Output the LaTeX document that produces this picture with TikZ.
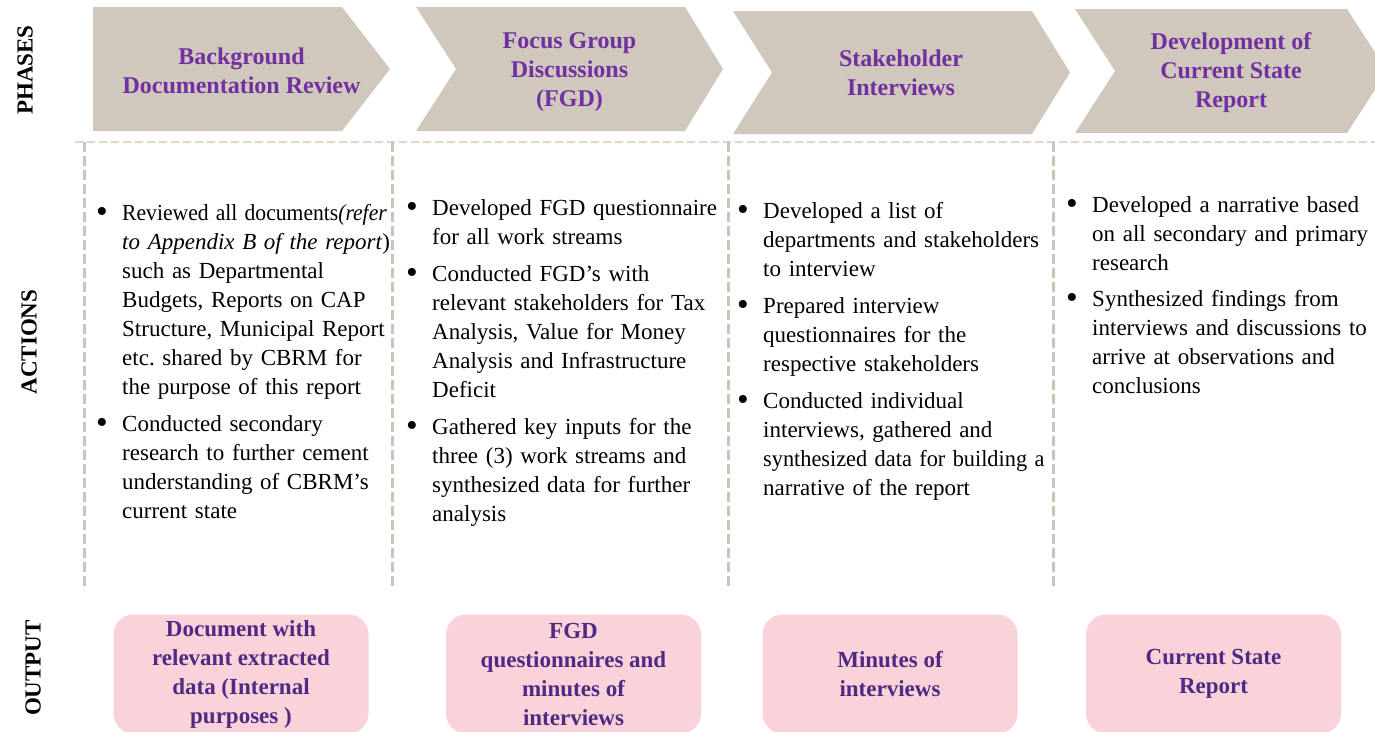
\documentclass[tikz,border=0pt]{standalone}
\usepackage{fontspec}
\setmainfont{Liberation Serif}
\frenchspacing
\definecolor{chev}{HTML}{D0C7BD}
\definecolor{phtext}{HTML}{7030A0}
\definecolor{outfill}{HTML}{F9D3D9}
\definecolor{outtext}{HTML}{4F2A84}
\definecolor{dashv}{HTML}{CDC4B9}
\definecolor{dashh}{HTML}{DDD6CD}
\newcommand\bitem[1]{\par\noindent\hangindent=25pt\hangafter=1\makebox[25pt][l]{\hspace{-1pt}\raisebox{-2pt}{\scalebox{1.45}{\textbullet}}}#1}
\tikzset{
  chevron/.style={fill=chev, draw=none},
  phase/.style={font=\fontsize{24}{29}\selectfont\bfseries, text=phtext, align=center, inner sep=0pt},
  action/.style={font=\fontsize{23}{29}\selectfont, text width=320pt, align=left, inner sep=0pt, anchor=north west},
  output/.style={fill=outfill, rounded corners=20pt, minimum width=255pt, minimum height=119pt,
    font=\fontsize{23}{29}\selectfont\bfseries, text=outtext, align=center, inner sep=0pt},
  rowlabel/.style={rotate=90, font=\fontsize{23}{29}\selectfont\bfseries, inner sep=0pt},
  vdash/.style={draw=dashv, line width=3pt, dash pattern=on 10pt off 4pt},
  hdash/.style={draw=dashh, line width=2pt, dash pattern=on 8pt off 4pt},
}
\begin{document}
\begin{tikzpicture}[x=1pt, y=-1pt]
\useasboundingbox (0,0) rectangle (1375,731);
\clip (0,0) rectangle (1375,731);
% chevrons
\fill[chevron] (93,7) -- (342,7) -- (390,69) -- (342,131) -- (93,131) -- cycle;
\fill[chevron] (416,7) -- (685,7) -- (723,69) -- (685,131) -- (416,131) -- (456,69) -- cycle;
\fill[chevron] (733,11) -- (1032,11) -- (1070,72.5) -- (1032,134) -- (733,134) -- (772,72.5) -- cycle;
\fill[chevron] (1075,9) -- (1347,9) -- (1387,71) -- (1347,133) -- (1075,133) -- (1115,71) -- cycle;
\node[phase] (ph1) at (241.5,70.5) {Background\\Documentation Review};
\node[phase] (ph2) at (569.5,72) {Focus Group\\Discussions\\(FGD)};
\node[phase] (ph3) at (901,72.5) {Stakeholder\\Interviews};
\node[phase] (ph4) at (1231,73) {Development of\\Current State\\Report};
% row labels
\node[rowlabel] (lphases) at (25,70) {PHASES};
\node[rowlabel] (lactions) at (29,342) {ACTIONS};
\node[rowlabel] (loutput) at (33,668) {OUTPUT};
% dashed grid
\coordinate (h0) at (75,142);
\coordinate (h1) at (1375,142);
\draw[hdash] (h0) -- (h1);
\foreach \xx/\nm in {84/a,392/b,728/c,1053/d}{
  \coordinate (vt\nm) at (\xx,142);
  \coordinate (vb\nm) at (\xx,590);
  \draw[vdash] (vt\nm) -- (vb\nm);
}
% actions
\node[action] (act1) at (97,183) {\setlength{\parskip}{8pt}%
\bitem{\scalebox{0.94}[1]{Reviewed all documents\textit{(refer}}\newline \textit{to Appendix B of the report})\newline such as Departmental\newline Budgets, Reports on CAP\newline Structure, Municipal Report\newline etc. shared by CBRM for\newline the purpose of this report}
\bitem{Conducted secondary\newline research to further cement\newline understanding of CBRM’s\newline current state}\par};
\node[action] (act2) at (407,178) {\setlength{\parskip}{8pt}%
\bitem{Developed FGD questionnaire\newline for all work streams}
\bitem{Conducted FGD’s with\newline relevant stakeholders for Tax\newline Analysis, Value for Money\newline Analysis and Infrastructure\newline Deficit}
\bitem{Gathered key inputs for the\newline three (3) work streams and\newline synthesized data for further\newline analysis}\par};
\node[action] (act3) at (738,181) {\setlength{\parskip}{8pt}%
\bitem{Developed a list of\newline departments and stakeholders\newline to interview}
\bitem{Prepared interview\newline questionnaires for the\newline respective stakeholders}
\bitem{Conducted individual\newline interviews, gathered and\newline \scalebox{0.97}[1]{synthesized data for building a}\newline narrative of the report}\par};
\node[action] (act4) at (1067,176) {\setlength{\parskip}{7pt}%
\bitem{Developed a narrative based\newline on all secondary and primary\newline research}
\bitem{Synthesized findings from\newline interviews and discussions to\newline arrive at observations and\newline conclusions}\par};
% outputs
\node[output] (out1) at (241,674) {Document with\\relevant extracted\\data (Internal\\purposes )};
\node[output] (out2) at (573.5,674) {FGD\\questionnaires and\\minutes of\\interviews};
\node[output] (out3) at (890,674) {Minutes of\\interviews};
\node[output] (out4) at (1213.5,674) {Current State\\Report};
\end{tikzpicture}
\end{document}
